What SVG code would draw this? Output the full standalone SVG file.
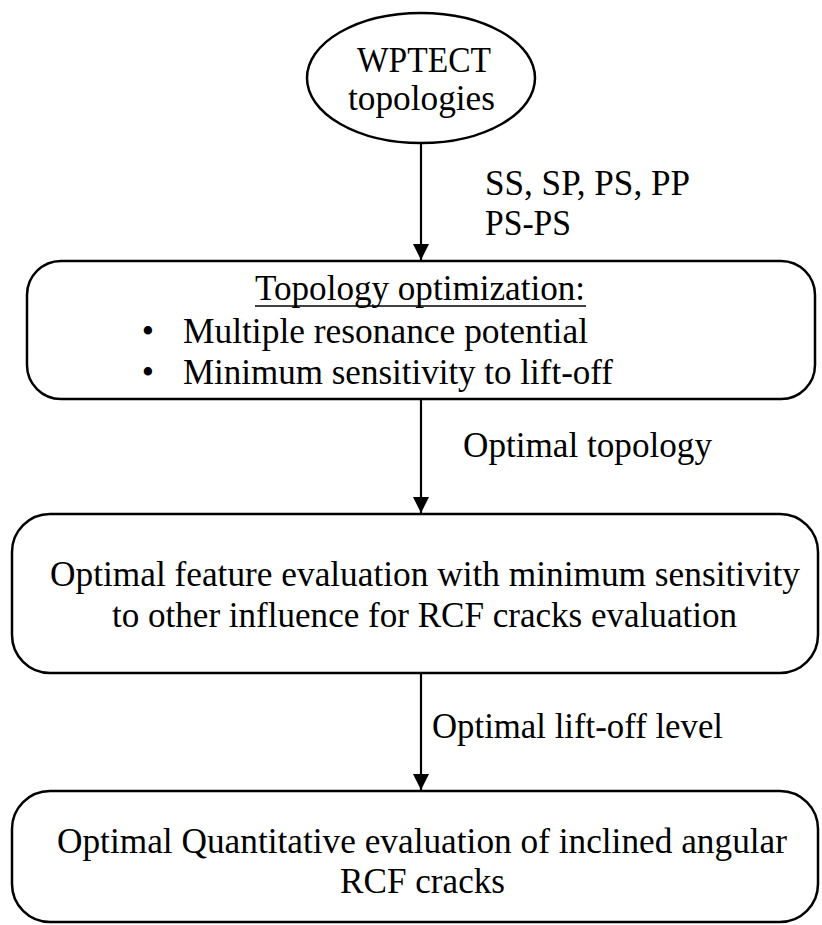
<svg xmlns="http://www.w3.org/2000/svg" width="822" height="925" viewBox="0 0 822 925">
  <style>
    .shape { fill: #ffffff; stroke: #000000; stroke-width: 2.5; }
    .t { font-family: "Liberation Serif", "Times New Roman", serif; font-size: 35px; fill: #000000; }
    .c { text-anchor: middle; }
    .edge { stroke: #000000; stroke-width: 2.2; fill: none; marker-end: url(#arrow); }
  </style>
  <defs>
    <!-- filled triangular arrowhead, tip at the line end -->
    <marker id="arrow" markerWidth="16" markerHeight="16" refX="16" refY="8" orient="auto" markerUnits="userSpaceOnUse" viewBox="0 0 16 16">
      <path d="M0,0 L16,8 L0,16 Z" fill="#000000"/>
    </marker>
  </defs>
  <rect width="822" height="925" fill="#ffffff"/>

  <g id="connectors">
    <line class="edge" x1="421" y1="144" x2="421" y2="260"/>
    <line class="edge" x1="421" y1="399" x2="421" y2="513"/>
    <line class="edge" x1="421" y1="673" x2="421" y2="790"/>
    <text class="t" x="485" y="195" textLength="205" lengthAdjust="spacingAndGlyphs">SS, SP, PS, PP</text>
    <text class="t" x="485" y="235" textLength="86" lengthAdjust="spacingAndGlyphs">PS-PS</text>
    <text class="t" x="463" y="457" textLength="249" lengthAdjust="spacingAndGlyphs">Optimal topology</text>
    <text class="t" x="432" y="738" textLength="291" lengthAdjust="spacingAndGlyphs">Optimal lift-off level</text>
  </g>

  <g id="topologies">
    <ellipse class="shape" cx="421" cy="78" rx="114" ry="65"/>
    <text class="t" x="357" y="72" textLength="134" lengthAdjust="spacingAndGlyphs">WPTECT</text>
    <text class="t" x="348" y="110" textLength="147" lengthAdjust="spacingAndGlyphs">topologies</text>
  </g>

  <g id="topology-optimization">
    <rect class="shape" x="27" y="261" width="788" height="138" rx="34"/>
    <text class="t" x="255" y="300" textLength="330" lengthAdjust="spacingAndGlyphs">Topology optimization:</text>
    <line x1="255" y1="306" x2="586" y2="306" stroke="#000000" stroke-width="1.5"/>
    <text class="t c" x="148" y="343">•</text>
    <text class="t" x="183" y="343" textLength="405" lengthAdjust="spacingAndGlyphs">Multiple resonance potential</text>
    <text class="t c" x="148" y="384">•</text>
    <text class="t" x="183" y="384" textLength="430" lengthAdjust="spacingAndGlyphs">Minimum sensitivity to lift-off</text>
  </g>

  <g id="feature-evaluation">
    <rect class="shape" x="12" y="514" width="806" height="159" rx="38"/>
    <text class="t" x="50" y="586" textLength="750" lengthAdjust="spacingAndGlyphs">Optimal feature evaluation with minimum sensitivity</text>
    <text class="t" x="112" y="627" textLength="625" lengthAdjust="spacingAndGlyphs">to other influence for RCF cracks evaluation</text>
  </g>

  <g id="quantitative-evaluation">
    <rect class="shape" x="12" y="791" width="806" height="131" rx="38"/>
    <text class="t" x="57" y="853" textLength="730" lengthAdjust="spacingAndGlyphs">Optimal Quantitative evaluation of inclined angular</text>
    <text class="t" x="340" y="893" textLength="165" lengthAdjust="spacingAndGlyphs">RCF cracks</text>
  </g>
</svg>
